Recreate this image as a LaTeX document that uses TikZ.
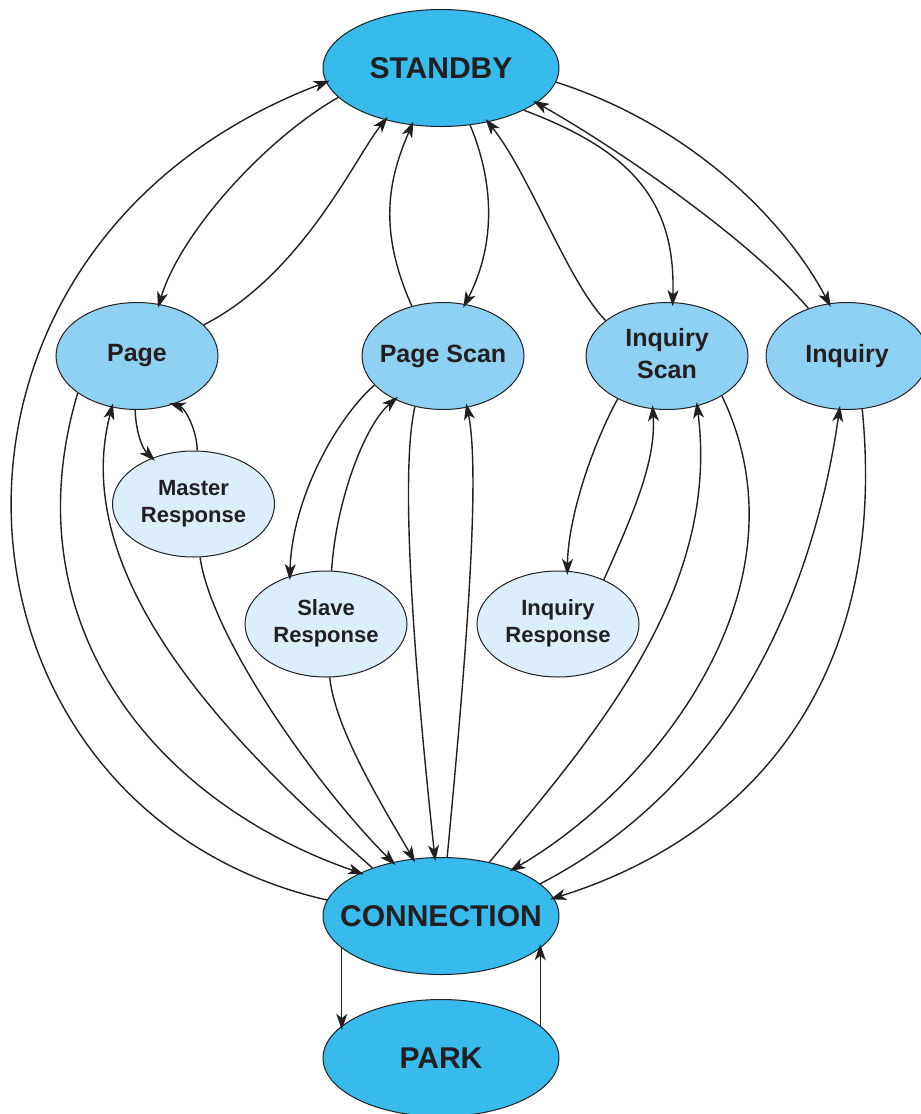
\documentclass[tikz,border=0pt]{standalone}
\usepackage{fontspec}
\setmainfont{Liberation Sans}
\usepackage{tikz}
\usetikzlibrary{
  % ellipse shape for the states
  shapes.geometric,%
  arrows.meta,%
  calc
}
\tikzset{>={Stealth[length=8pt,width=5.5pt,inset=2.2pt]}}
\definecolor{statedark}{RGB}{54,187,236}
\definecolor{statemid}{RGB}{142,209,243}
\definecolor{statelight}{RGB}{220,238,250}
\definecolor{inkgray}{RGB}{35,31,32}
\newcommand{\onelabel}[1]{\makebox[0pt]{#1}}
\newcommand{\twolabel}[2]{\makebox[0pt]{\begin{tabular}{@{}c@{}}#1\\#2\end{tabular}}}
\tikzset{
  bigstate/.style={ellipse, draw=inkgray, line width=0.5pt, fill=statedark,
    minimum width=118pt, minimum height=58.5pt, inner sep=0pt, text=inkgray,
    font=\fontsize{15}{18}\selectfont\bfseries},
  midstate/.style={ellipse, draw=inkgray, line width=0.5pt, fill=statemid,
    minimum width=81pt, minimum height=53.5pt, inner sep=0pt, text=inkgray,
    font=\fontsize{12.5}{16}\selectfont\bfseries},
  respstate/.style={ellipse, draw=inkgray, line width=0.5pt, fill=statelight,
    minimum width=81pt, minimum height=53pt, inner sep=0pt, text=inkgray,
    font=\fontsize{11}{13.5}\selectfont\bfseries},
  trans/.style={->, draw=inkgray, line width=0.7pt, shorten >=-2pt}
}

\begin{document}
\begin{tikzpicture}[x=0.5pt, y=-0.5pt]
  \useasboundingbox (0,0) rectangle (921,1114);
  % states
  \node[bigstate] (stby) at (441,68) {\onelabel{STANDBY}};
  \node[midstate] (page) at (137,356) {\onelabel{Page}};
  \node[midstate] (pscan) at (443,356) {\onelabel{Page Scan}};
  \node[midstate] (iscan) at (667,356) {\twolabel{Inquiry}{Scan}};
  \node[midstate] (inq) at (847,356) {\onelabel{Inquiry}};
  \node[respstate] (mresp) at (193.5,504) {\twolabel{Master}{Response}};
  \node[respstate] (sresp) at (326,624) {\twolabel{Slave}{Response}};
  \node[respstate] (iresp) at (558,624) {\twolabel{Inquiry}{Response}};
  \node[bigstate] (conn) at (441,916) {\onelabel{CONNECTION}};
  \node[bigstate] (park) at (441,1058) {\onelabel{PARK}};

  % to and from standby
  \draw[trans] (conn.172) .. controls (-70,810) and (-115,250) .. (stby.187);
  \draw[trans] (stby.196) .. controls (268,137) and (181,231) .. (page.67);
  \draw[trans] (page.25) .. controls (302,275) and (356,156) .. (stby.223);
  \draw[trans] (pscan.122) .. controls (378,230) and (388,180) .. (stby.243);
  \draw[trans] (stby.297) .. controls (497,190) and (493,250) .. (pscan.67);
  \draw[trans] (iscan.150) .. controls (568,282) and (530,175) .. (stby.311);
  \draw[trans] (stby.333) .. controls (630,150) and (676,200) .. (iscan.84);
  \draw[trans] (inq.129) .. controls (750,240) and (620,150) .. (stby.340);
  \draw[trans] (stby.353) .. controls (690,125) and (785,220) .. (inq.109);

  % page side
  \draw[trans] (page.212) .. controls (10,620) and (150,800) .. (conn.152);
  \draw[trans] (conn.145) .. controls (260,768) and (64,590) .. (page.244);
  \draw[trans] (page.268) .. controls (136,432) and (142,448) .. (mresp.132);
  \draw[trans] (mresp.86) .. controls (197,430) and (185,408) .. (page.307);
  \draw[trans] (mresp.277) .. controls (212,640) and (320,790) .. (conn.132);

  % page scan
  \draw[trans] (pscan.203) .. controls (335,420) and (292,500) .. (sresp.127);
  \draw[trans] (sresp.84) .. controls (336,500) and (365,425) .. (pscan.222);
  \draw[trans] (sresp.274) .. controls (335,730) and (385,810) .. (conn.116);
  \draw[trans] (pscan.241) .. controls (398,480) and (418,700) .. (conn.96);
  \draw[trans] (conn.84) .. controls (462,700) and (482,480) .. (pscan.295);

  % inquiry scan and inquiry
  \draw[trans] (iscan.221) .. controls (590,450) and (568,520) .. (iresp.80);
  \draw[trans] (iresp.44) .. controls (635,510) and (656,460) .. (iscan.255);
  \draw[trans] (conn.48) .. controls (590,740) and (721,594) .. (iscan.301);
  \draw[trans] (iscan.324) .. controls (815,590) and (650,790) .. (conn.33);
  \draw[trans] (conn.18) .. controls (740,780) and (815,580) .. (inq.262);
  \draw[trans] (inq.286) .. controls (890,690) and (740,840) .. (conn.9);

  % park
  \draw[trans] (conn.198) -- (park.162 -| conn.198);
  \draw[trans] (park.18) -- (conn.342 -| park.18);
\end{tikzpicture}
\end{document}
